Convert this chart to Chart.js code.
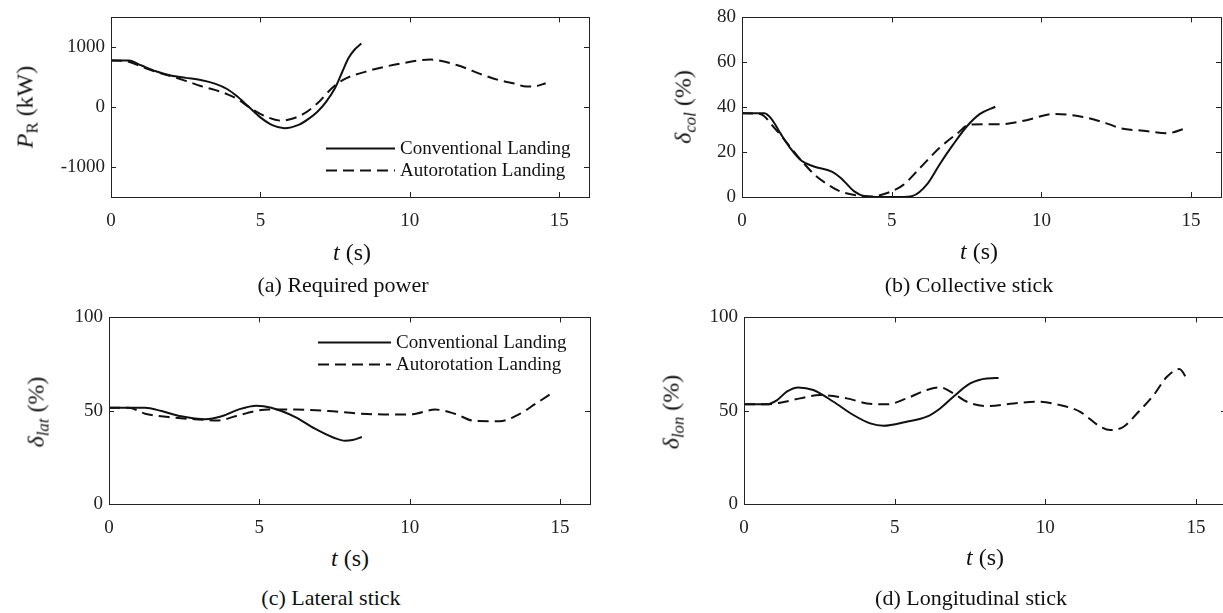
<!DOCTYPE html>
<html>
<head>
<meta charset="utf-8">
<script src="https://cdn.jsdelivr.net/npm/chart.js@4.4.0/dist/chart.umd.min.js"></script>
<style>
  body { margin: 0; width: 1223px; height: 613px; overflow: hidden; position: relative; background: #fff; }
  .panel { position: absolute; }
  .txt { position: absolute; font-family: "Liberation Serif", "Times New Roman", serif; color: #111;
         white-space: nowrap; line-height: 1; transform: translate(-50%, -50%); }
  .ytitle { transform: translate(-50%, -50%) rotate(-90deg); font-size: 24px; }
  .xtitle { font-size: 24px; }
  .cap { font-size: 22px; }
  sub { font-size: 70%; vertical-align: -0.3em; }
</style>
</head>
<body>
<div class="panel" style="left:0;top:0"><canvas id="ca" width="611" height="240"></canvas></div>
<div class="panel" style="left:611px;top:0"><canvas id="cb" width="612" height="240"></canvas></div>
<div class="panel" style="left:0;top:300px"><canvas id="cc" width="611" height="245"></canvas></div>
<div class="panel" style="left:611px;top:300px"><canvas id="cd" width="630" height="245"></canvas></div>

<div class="txt ytitle" style="left:27px;top:107px"><i>P</i><sub>R</sub> (kW)</div>
<div class="txt ytitle" style="left:685px;top:107px"><i>δ</i><sub><i>col</i></sub> (%)</div>
<div class="txt ytitle" style="left:38px;top:412px"><i>δ</i><sub><i>lat</i></sub> (%)</div>
<div class="txt ytitle" style="left:673px;top:412px"><i>δ</i><sub><i>lon</i></sub> (%)</div>

<div class="txt xtitle" style="left:352px;top:252px"><i>t</i> (s)</div>
<div class="txt xtitle" style="left:979px;top:251px"><i>t</i> (s)</div>
<div class="txt xtitle" style="left:350px;top:558px"><i>t</i> (s)</div>
<div class="txt xtitle" style="left:985px;top:557px"><i>t</i> (s)</div>

<div class="txt cap" style="left:343px;top:285px">(a) Required power</div>
<div class="txt cap" style="left:969px;top:285px">(b) Collective stick</div>
<div class="txt cap" style="left:331px;top:598px">(c) Lateral stick</div>
<div class="txt cap" style="left:971px;top:598px">(d) Longitudinal stick</div>

<script>
const seriesNames = ['Conventional Landing', 'Autorotation Landing'];
const xTicks = [0, 5, 10, 15];

// (a) required power, kW
const powerTicks = [-1000, 0, 1000];
const convPowerT = [0, 0.6, 1.0, 1.5, 2.0, 2.5, 3.0, 3.5, 3.9, 4.2, 4.6, 5.0, 5.4, 5.8, 6.3, 6.6, 6.9, 7.2, 7.5, 7.75, 7.95, 8.15, 8.38];
const convPower  = [780, 780, 700, 600, 530, 490, 455, 390, 300, 190, 10, -170, -300, -350, -290, -200, -80, 90, 320, 600, 820, 960, 1065];
const autoPowerT = [0, 0.5, 1.0, 1.5, 2.0, 2.5, 3.0, 3.5, 3.9, 4.2, 4.7, 5.2, 5.7, 6.0, 6.4, 6.9, 7.4, 7.8, 8.5, 9.7, 10.7, 11.6, 12.45, 13.0, 13.5, 13.9, 14.2, 14.55];
const autoPower  = [780, 770, 680, 590, 520, 440, 355, 285, 215, 145, -25, -160, -225, -200, -125, 60, 320, 465, 590, 730, 795, 700, 540, 450, 395, 345, 350, 400];

// (b) collective stick, %
const colTicks = [0, 20, 40, 60, 80];
const convColT = [0, 0.75, 1.0, 1.3, 1.6, 2.0, 2.4, 3.0, 3.3, 3.75, 4.1, 4.5, 5.3, 5.7, 6.2, 6.6, 7.05, 7.5, 7.95, 8.46];
const convCol  = [37.3, 37.3, 34.5, 28, 22, 16, 13.6, 11.3, 8.5, 2.5, 0.3, 0, 0, 0.5, 6, 14.5, 23.3, 31.3, 37, 40.2];
const autoColT = [0, 0.6, 1.1, 1.55, 2.0, 2.45, 2.9, 3.3, 3.8, 4.3, 4.9, 5.4, 5.95, 6.6, 7.2, 7.6, 8.6, 9.5, 10.4, 11.3, 12.2, 12.65, 13.4, 14.2, 14.87];
const autoCol  = [37.3, 37, 30.5, 23.3, 16, 9.6, 5.3, 2.4, 0.8, 0.2, 2, 5.5, 13, 21.9, 28.4, 32.3, 32.4, 34.2, 37, 35.9, 32.7, 30.6, 29.5, 28.4, 30.8];

// (c) lateral stick, %
const stickTicks = [0, 50, 100];
const convLatT = [0, 1.2, 1.75, 2.4, 3.2, 3.75, 4.3, 4.9, 5.4, 6.2, 6.85, 7.5, 7.85, 8.1, 8.41];
const convLat  = [51.6, 51.6, 49.8, 47, 45.4, 47, 50.6, 52.7, 51.6, 46.6, 40.4, 35.4, 33.9, 34.3, 35.9];
const autoLatT = [0, 0.65, 1.2, 1.97, 2.86, 3.64, 4.2, 4.86, 5.3, 6.2, 7.3, 8.4, 9.5, 10.1, 10.85, 11.5, 12.17, 13.0, 13.57, 14.2, 14.79];
const autoLat  = [51.6, 51.6, 48.4, 46.6, 45.4, 44.8, 47, 49.8, 50.6, 50.6, 49.8, 48.4, 47.9, 48.1, 50.6, 48.4, 44.5, 44.4, 47.5, 53.8, 60];

// (d) longitudinal stick, %
const convLonT = [0, 0.75, 1.1, 1.42, 1.8, 2.3, 2.97, 3.63, 4.19, 4.63, 5.4, 6.07, 6.51, 6.95, 7.51, 8.06, 8.45];
const convLon  = [53.4, 53.4, 55.7, 60.2, 62.5, 61.1, 54.8, 47.7, 43.2, 41.9, 44.1, 46.8, 51.2, 57.5, 64.6, 67.3, 67.5];
const autoLonT = [0, 0.75, 1.2, 1.86, 2.52, 3.41, 4.08, 4.74, 5.4, 6.07, 6.51, 6.95, 7.4, 8.06, 8.95, 9.72, 10.5, 11.16, 11.83, 12.16, 12.6, 13.05, 13.6, 14.04, 14.45, 14.71];
const autoLon  = [53.4, 53.4, 54.3, 56.6, 58.4, 56.6, 53.9, 53.4, 56.6, 61.1, 62.5, 59.3, 54.8, 52.5, 53.9, 54.8, 53, 49.4, 41.4, 39.6, 41.4, 48.6, 58.4, 68.2, 72.3, 67];

function zip(t, v) {
    return t.map((x, i) => ({ x: x, y: v[i] }));
}

// box round the plot with inward ticks on all four sides
const boxTicks = {
    id: 'boxTicks',
    afterDraw(chart) {
        const ctx = chart.ctx;
        const a = chart.chartArea;
        const xs = chart.scales.x, ys = chart.scales.y;
        const len = 5;
        ctx.save();
        ctx.strokeStyle = '#222';
        ctx.lineWidth = 1;
        ctx.setLineDash([]);
        ctx.strokeRect(Math.round(a.left) + 0.5, Math.round(a.top) + 0.5, Math.round(a.right - a.left), Math.round(a.bottom - a.top));
        ctx.beginPath();
        xs.ticks.forEach(tk => {
            const px = Math.round(xs.getPixelForValue(tk.value)) + 0.5;
            ctx.moveTo(px, a.bottom); ctx.lineTo(px, a.bottom - len);
            ctx.moveTo(px, a.top); ctx.lineTo(px, a.top + len);
        });
        ys.ticks.forEach(tk => {
            const py = Math.round(ys.getPixelForValue(tk.value)) + 0.5;
            ctx.moveTo(a.left, py); ctx.lineTo(a.left + len, py);
            ctx.moveTo(a.right, py); ctx.lineTo(a.right - len, py);
        });
        ctx.stroke();
        ctx.restore();
    }
};

// legend drawn inside the plot area
const lineLegend = {
    id: 'lineLegend',
    afterDatasetsDraw(chart, args, opts) {
        if (!opts.show) return;
        const ctx = chart.ctx;
        const a = chart.chartArea;
        ctx.save();
        ctx.font = '19px "Liberation Serif"';
        ctx.textBaseline = 'middle';
        ctx.fillStyle = '#111';
        chart.data.datasets.forEach((ds, i) => {
            const y = a.top + opts.rows[i];
            const x0 = a.left + opts.x;
            ctx.strokeStyle = ds.borderColor;
            ctx.lineWidth = ds.borderWidth;
            ctx.setLineDash(ds.borderDash || []);
            ctx.beginPath();
            ctx.moveTo(x0, y);
            ctx.lineTo(x0 + opts.len, y);
            ctx.stroke();
            ctx.fillText(ds.label, x0 + opts.len + 5, y + 1);
        });
        ctx.restore();
    }
};

function makeChart(id, canvasPos, box, ymin, ymax, yTicks, conv, auto, legend) {
    const canvas = document.getElementById(id);
    const padTop = box[1] - canvasPos[1];
    const padRight = canvasPos[0] + canvas.width - box[2];
    const yWidth = box[0] - canvasPos[0];
    const xHeight = canvasPos[1] + canvas.height - box[3];
    const tickFont = { family: '"Liberation Serif", "Times New Roman", serif', size: 19 };

    return new Chart(canvas.getContext('2d'), {
        type: 'line',
        data: {
            datasets: [{
                label: seriesNames[0],
                data: conv,
                borderColor: '#111',
                borderWidth: 2,
                pointRadius: 0,
                cubicInterpolationMode: 'monotone',
                fill: false
            }, {
                label: seriesNames[1],
                data: auto,
                borderColor: '#111',
                borderWidth: 2,
                borderDash: [11, 6],
                pointRadius: 0,
                cubicInterpolationMode: 'monotone',
                fill: false
            }]
        },
        options: {
            responsive: false,
            animation: false,
            events: [],
            layout: { padding: { top: padTop, right: padRight, left: 0, bottom: 0 } },
            scales: {
                x: {
                    type: 'linear',
                    min: 0,
                    max: 16,
                    afterBuildTicks: s => { s.ticks = xTicks.map(v => ({ value: v })); },
                    afterFit: s => { s.height = xHeight; },
                    grid: { display: false, drawTicks: false },
                    border: { display: false },
                    ticks: { font: tickFont, color: '#222', padding: 13, maxRotation: 0, callback: v => String(v) }
                },
                y: {
                    type: 'linear',
                    min: ymin,
                    max: ymax,
                    afterBuildTicks: s => { s.ticks = yTicks.map(v => ({ value: v })); },
                    afterFit: s => { s.width = yWidth; },
                    grid: { display: false, drawTicks: false },
                    border: { display: false },
                    ticks: { font: tickFont, color: '#222', padding: 6, callback: v => String(v) }
                }
            },
            plugins: {
                legend: { display: false },
                tooltip: { enabled: false },
                lineLegend: legend || { show: false }
            }
        },
        plugins: [boxTicks, lineLegend]
    });
}

makeChart('ca', [0, 0], [111, 12, 589, 197], -1500, 1500, powerTicks,
    zip(convPowerT, convPower), zip(autoPowerT, autoPower),
    { show: true, x: 215, rows: [131, 153], len: 69 });
makeChart('cb', [611, 0], [742, 12, 1221, 197], 0, 80, colTicks,
    zip(convColT, convCol), zip(autoColT, autoCol));
makeChart('cc', [0, 300], [109, 317, 590, 504], 0, 100, stickTicks,
    zip(convLatT, convLat), zip(autoLatT, autoLat),
    { show: true, x: 209, rows: [25, 47], len: 73 });
makeChart('cd', [611, 300], [744, 317, 1226, 504], 0, 100, stickTicks,
    zip(convLonT, convLon), zip(autoLonT, autoLon));
</script>
</body>
</html>
